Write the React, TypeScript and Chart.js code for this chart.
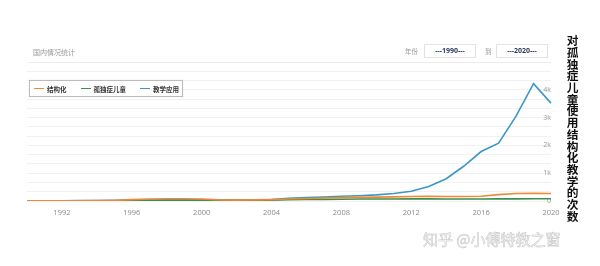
import React, { useEffect, useRef } from "react";
import { Chart, registerables } from "chart.js";

Chart.register(...registerables);

const years: string[] = [
  "1990","1991","1992","1993","1994","1995","1996","1997","1998","1999","2000",
  "2001","2002","2003","2004","2005","2006","2007","2008","2009","2010",
  "2011","2012","2013","2014","2015","2016","2017","2018","2019","2020",
];

const seriesNames: string[] = ["结构化", "孤独症儿童", "教学应用"];
const seriesColors: string[] = ["#ec8a3a", "#3f8f4c", "#3b97c6"];

const structured: number[] = [
  5, 5, 8, 10, 15, 20, 50, 70, 80, 80, 70,
  40, 30, 40, 50, 70, 90, 110, 120, 130, 140,
  150, 160, 170, 160, 160, 170, 230, 270, 280, 270,
];
const autismChildren: number[] = [
  3, 3, 5, 5, 8, 10, 12, 15, 15, 15, 15,
  15, 15, 20, 30, 50, 55, 60, 65, 70, 70,
  70, 75, 75, 70, 70, 70, 75, 75, 80, 80,
];
const teaching: number[] = [
  10, 10, 10, 15, 20, 25, 30, 35, 40, 40, 40,
  30, 30, 35, 50, 100, 120, 140, 170, 190, 220,
  270, 350, 520, 800, 1250, 1780, 2080, 3050, 4220, 3520,
];

const yMax = 5000;
const yLabelStep = 1000;
const gridStep = 1000 / 3;

export default function App() {
  const ref = useRef<HTMLCanvasElement | null>(null);

  useEffect(() => {
    if (!ref.current) return;
    const seriesData = [structured, autismChildren, teaching];
    const chart = new Chart(ref.current, {
      type: "line",
      data: {
        labels: years,
        datasets: seriesNames.map((name, i) => ({
          label: name,
          data: seriesData[i],
          borderColor: seriesColors[i],
          backgroundColor: seriesColors[i],
          borderWidth: 1.6,
          pointRadius: 0,
          tension: 0,
        })),
      },
      options: {
        responsive: false,
        animation: false,
        layout: { padding: { left: 27, right: 49, top: 62, bottom: 42 } },
        plugins: { legend: { display: false }, tooltip: { enabled: false } },
        scales: {
          x: {
            type: "category",
            offset: false,
            grid: { display: false, drawTicks: false },
            border: { display: false },
            ticks: {
              autoSkip: false,
              maxRotation: 0,
              padding: 7,
              color: "#8a8a8a",
              font: { size: 7.5, family: "'Open Sans', sans-serif" },
              callback: (_v: any, idx: number) => {
                const y = parseInt(years[idx], 10);
                return (y - 1992) % 4 === 0 ? years[idx] : "";
              },
            },
          },
          y: {
            position: "right",
            min: 0,
            max: yMax,
            grid: { color: "#f1f1f1", lineWidth: 1, drawTicks: false },
            border: { display: false },
            afterBuildTicks: (axis: any) => {
              const n = Math.round(yMax / gridStep);
              axis.ticks = Array.from({ length: n + 1 }, (_, i) => ({ value: i * gridStep }));
            },
            ticks: {
              mirror: true,
              padding: 0,
              autoSkip: false,
              color: "#9a9a9a",
              font: { size: 7, family: "'Open Sans', sans-serif" },
              callback: (v: any) => {
                const k = Number(v) / yLabelStep;
                const r = Math.round(k);
                if (Math.abs(k - r) < 1e-6 && r <= 4) return r === 0 ? "0" : r + "k";
                return "";
              },
            },
          },
        },
      },
    });
    return () => chart.destroy();
  }, []);

  const cjk = "'Noto Sans CJK SC', sans-serif";

  return (
    <div style={{ position: "absolute", left: 0, top: 0, width: 600, height: 266, background: "#fff", overflow: "hidden" }}>
      <canvas ref={ref} width={600} height={266} style={{ position: "absolute", left: 0, top: 0 }} />
      <div style={{ position: "absolute", left: 33, top: 47, fontFamily: cjk, fontSize: 7, color: "#999", lineHeight: "10px" }}>
        国内情况统计
      </div>
      <div style={{ position: "absolute", left: 29, top: 62, width: 522, height: 1, background: "#ececec" }} />
      <div style={{ position: "absolute", left: 405, top: 46, fontFamily: cjk, fontSize: 6.5, color: "#999", lineHeight: "10px" }}>年份</div>
      <div style={{ position: "absolute", left: 424, top: 44, width: 52, height: 14, border: "1px solid #e2e2e2", boxSizing: "border-box", fontFamily: "'Open Sans', sans-serif", fontSize: 7, fontWeight: 700, color: "#2d3a5a", textAlign: "center", lineHeight: "12px" }}>
        ---1990---
      </div>
      <div style={{ position: "absolute", left: 485, top: 46, fontFamily: cjk, fontSize: 6.5, color: "#999", lineHeight: "10px" }}>到</div>
      <div style={{ position: "absolute", left: 496, top: 44, width: 52, height: 14, border: "1px solid #e2e2e2", boxSizing: "border-box", fontFamily: "'Open Sans', sans-serif", fontSize: 7, fontWeight: 700, color: "#2d3a5a", textAlign: "center", lineHeight: "12px" }}>
        ---2020---
      </div>
      <div style={{ position: "absolute", left: 29, top: 80, width: 154, height: 17, border: "1px solid #bcbcbc", boxSizing: "border-box", background: "#fff", boxShadow: "0 0 1px #ddd", display: "flex", alignItems: "center", fontFamily: cjk, fontSize: 6.5, fontWeight: 700, color: "#333" }}>
        {seriesNames.map((n, i) => (
          <div key={n} style={{ display: "flex", alignItems: "center", marginLeft: i === 0 ? 4 : 14 }}>
            <div style={{ width: 10, height: 1.6, background: seriesColors[i], marginRight: 3 }} />
            <span>{n}</span>
          </div>
        ))}
      </div>
      <div style={{ position: "absolute", left: 565, top: 35, writingMode: "vertical-rl", fontFamily: cjk, fontSize: 11.7, fontWeight: 700, color: "#111", lineHeight: "14px", letterSpacing: 0 }}>
        对孤独症儿童使用结构化教学的次数
      </div>
      <div style={{ position: "absolute", left: 423, top: 229, fontFamily: cjk, fontSize: 15, color: "#fafafa", WebkitTextStroke: "0.5px #c4c4c4", lineHeight: "20px", whiteSpace: "nowrap" }}>
        知乎 @小傅特教之窗
      </div>
    </div>
  );
}
